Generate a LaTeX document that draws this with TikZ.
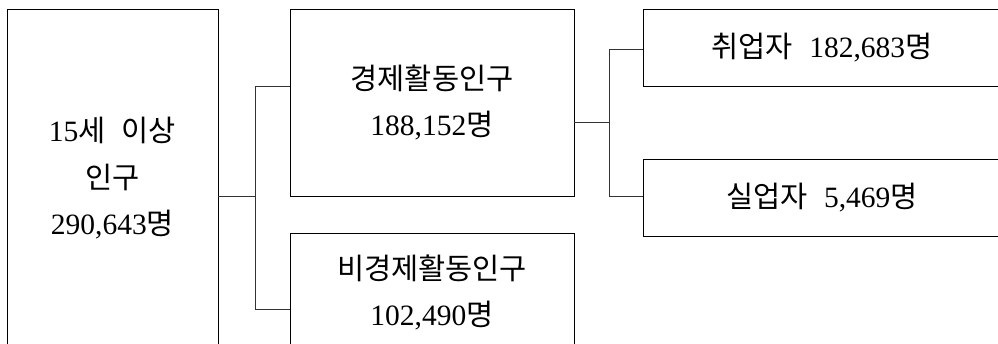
\documentclass[tikz,border=0pt]{standalone}
\usepackage{fontspec}
\setmainfont{Liberation Serif}
\newfontfamily\kr{Noto Sans CJK KR}
\newcommand{\wsp}{\hspace{0.55em}}
\begin{document}
\begin{tikzpicture}[x=1pt,y=-1pt,
  box/.style={draw=black,line width=1pt,inner sep=0pt,outer sep=0pt,align=center,
    font=\fontsize{29.5}{46.5}\selectfont},
  conn/.style={draw=black!80,line width=1pt}]
\clip (0,0) rectangle (998,343);
\fill[white] (0,0) rectangle (998,343);
% boxes
\node[box,minimum width=211pt,minimum height=339pt] (A) at (112.5,178.5)
  {15{\kr 세}\wsp{\kr 이상}\\{\kr 인구}\\290,643{\kr 명}};
\node[box,minimum width=284pt,minimum height=187pt] (B) at (432,102.5)
  {{\kr 경제활동인구}\\188,152{\kr 명}};
\node[box,minimum width=284pt,minimum height=119pt] (C) at (432,292.5)
  {{\kr 비경제활동인구}\\102,490{\kr 명}};
\node[box,minimum width=358pt,minimum height=77pt] (D) at (822,47.5)
  {{\kr 취업자}\wsp 182,683{\kr 명}};
\node[box,minimum width=358pt,minimum height=77pt] (E) at (822,197.5)
  {{\kr 실업자}\wsp 5,469{\kr 명}};
% junctions
\coordinate (jA) at (255,196);
\coordinate (jB) at (255,86);
\coordinate (jC) at (255,309);
\coordinate (kB) at (609,122);
\coordinate (kD) at (609,49);
\coordinate (kE) at (609,196);
% connectors
\draw[conn] (A.east |- jA) -- (jA);
\draw[conn] (jB) -- (jC);
\draw[conn] (jB) -- (B.west |- jB);
\draw[conn] (jC) -- (C.west |- jC);
\draw[conn] (B.east |- kB) -- (kB);
\draw[conn] (kD) -- (kE);
\draw[conn] (kD) -- (D.west |- kD);
\draw[conn] (kE) -- (E.west |- kE);
\end{tikzpicture}
\end{document}
